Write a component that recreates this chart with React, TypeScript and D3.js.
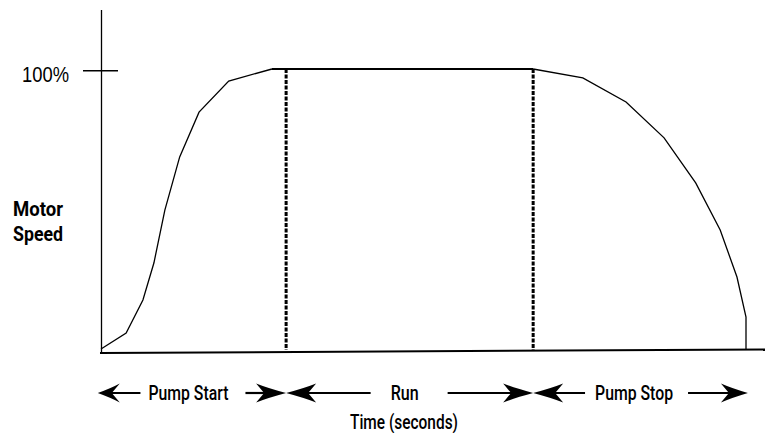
import React from "react";
import * as d3 from "d3";

// ---- data ----
const startTime = [0, 3.9, 6.5, 8.2, 9.9, 12.2, 15.2, 19.8, 26.5];
const startSpeed = [0, 5.7, 17.5, 30.7, 49.6, 68.6, 84.6, 95.7, 100];
const runTime = [26.5, 67];
const runSpeed = [100, 100];
const stopTime = [67, 74.7, 81.4, 87.3, 92.2, 96, 98.6, 100, 100];
const stopSpeed = [100, 96.8, 88.2, 75.4, 59.3, 42.5, 25.7, 11.4, 0];
const phaseNames = ["Pump Start", "Run", "Pump Stop"];
const phaseBounds = [-0.5, 28.7, 67, 100.3];
const markerTimes = [28.7, 67];
const yTickLabel = "100%";
const yTickValue = 100;
const yTitle = ["Motor", "Speed"];
const xTitle = "Time (seconds)";

const W = 765;
const H = 433;

export default function App() {
  const x = d3.scaleLinear().domain([0, 100]).range([101, 746]);
  const y = d3.scaleLinear().domain([0, 100]).range([349, 69]);
  const line = d3
    .line<[number, number]>()
    .x((d) => x(d[0]))
    .y((d) => y(d[1]))
    .curve(d3.curveLinear);

  const startPts = startTime.map((t, i) => [t, startSpeed[i]] as [number, number]);
  const runPts = runTime.map((t, i) => [t, runSpeed[i]] as [number, number]);
  const stopPts = stopTime.map((t, i) => [t, stopSpeed[i]] as [number, number]);

  const arrowY = 393;
  const font = "Roboto, 'Liberation Sans', sans-serif";
  const labelWidths = [80, 28, 78];
  const labelShift = [-3.5, -5, -6.5];
  const gapL = [8, 20, 10];
  const gapR = [17, 29, 15];

  const head = (tx: number, dir: number, L: number) => {
    const Hh = 9.5, N = 8;
    return `M${tx},${arrowY} Q${tx - dir * L * 0.6},${arrowY - Hh * 0.5} ${tx - dir * L},${arrowY - Hh} L${tx - dir * (L - N)},${arrowY} L${tx - dir * L},${arrowY + Hh} Q${tx - dir * L * 0.6},${arrowY + Hh * 0.5} ${tx},${arrowY} Z`;
  };

  return (
    <svg
      width={W}
      height={H}
      style={{ position: "absolute", left: 0, top: 0, background: "#fff" }}
    >
      <rect width={W} height={H} fill="#fff" />
      {/* axes */}
      <line x1={101.5} y1={10} x2={101.5} y2={353} stroke="#000" strokeWidth={1.3} />
      <line x1={100} y1={353} x2={765} y2={349.5} stroke="#000" strokeWidth={2} />
      {/* y tick */}
      <line x1={83} x2={118} y1={y(yTickValue) + 1.7} y2={y(yTickValue) + 1.7} stroke="#000" strokeWidth={1.6} />
      <text
        x={22}
        y={y(yTickValue) + 12.5}
        fontFamily="'Liberation Sans', Arial, sans-serif"
        fontSize={22}
        textLength={47}
        lengthAdjust="spacingAndGlyphs"
        fill="#000"
      >
        {yTickLabel}
      </text>
      {/* y title */}
      {yTitle.map((s, i) => (
        <text
          key={s}
          x={13}
          y={216 + i * 25}
          fontFamily={font}
          fontWeight="bold"
          fontSize={20}
          textLength={50}
          lengthAdjust="spacingAndGlyphs"
          fill="#000"
        >
          {s}
        </text>
      ))}
      {/* phase markers */}
      {markerTimes.map((t) => (
        <line
          key={t}
          x1={x(t)}
          x2={x(t)}
          y1={y(100)}
          y2={y(0) + 1}
          stroke="#000"
          strokeWidth={3}
          strokeDasharray="4 1.5"
        />
      ))}
      {/* speed curve */}
      <path d={line(startPts) || ""} fill="none" stroke="#000" strokeWidth={1.3} />
      <path d={line(runPts) || ""} fill="none" stroke="#000" strokeWidth={1.8} />
      <path d={line(stopPts) || ""} fill="none" stroke="#000" strokeWidth={1.3} />
      {/* phase arrows */}
      {phaseNames.map((name, i) => {
        const x0 = x(phaseBounds[i]);
        const x1 = x(phaseBounds[i + 1]);
        const cx = (x0 + x1) / 2 + labelShift[i];
        const hw = labelWidths[i] / 2;
        const lEnd = cx - hw - gapL[i];
        const rStart = cx + hw + gapR[i];
        const Ll = i === 0 ? 22 : 30;
        const Lr = i === phaseNames.length - 1 ? 27 : 30;
        return (
          <g key={name}>
            <line x1={x0 + 10} x2={lEnd} y1={arrowY} y2={arrowY} stroke="#000" strokeWidth={2.2} />
            <line x1={rStart} x2={x1 - 10} y1={arrowY} y2={arrowY} stroke="#000" strokeWidth={2.2} />
            <path d={head(x0, -1, Ll)} fill="#000" />
            <path d={head(x1, 1, Lr)} fill="#000" />
            <text
              x={cx - hw}
              y={arrowY + 7}
              fontFamily={font}
              fontWeight={500}
              fontSize={21}
              textLength={labelWidths[i]}
              lengthAdjust="spacingAndGlyphs"
              fill="#000"
            >
              {name}
            </text>
          </g>
        );
      })}
      {/* x title */}
      <text
        x={350}
        y={428.5}
        fontFamily={font}
        fontWeight={500}
        fontSize={21}
        textLength={108}
        lengthAdjust="spacingAndGlyphs"
        fill="#000"
      >
        {xTitle}
      </text>
    </svg>
  );
}
